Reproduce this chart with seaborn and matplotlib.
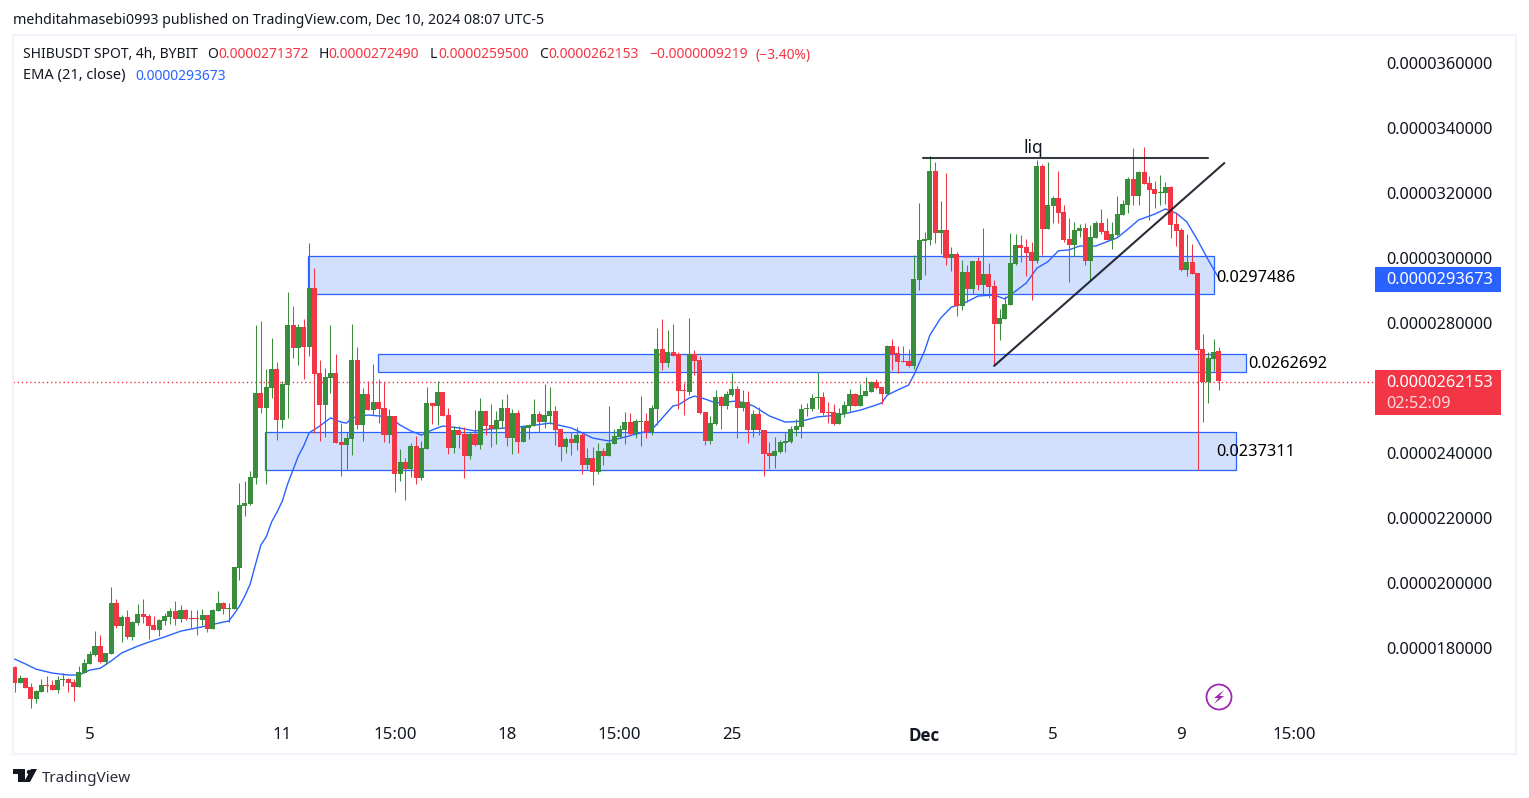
import matplotlib

matplotlib.use("Agg")
import matplotlib.pyplot as plt
import numpy as np
import pandas as pd
import seaborn as sns
from matplotlib.patches import Circle, Polygon, Rectangle
from matplotlib.transforms import Affine2D

W, H = 1529, 798

# OHLC of the 4h candles, in units of 1e-8 USDT
opens = [
    1742, 1692, 1708, 1680, 1643, 1665, 1686, 1686, 1671, 1702,
    1705, 1695, 1680, 1723, 1751, 1778, 1806, 1757, 1782, 1938,
    1868, 1895, 1834, 1877, 1905, 1898, 1871, 1855, 1883, 1895,
    1914, 1889, 1917, 1892, 1892, 1886, 1902, 1858, 1914, 1938,
    1920, 1920, 2046, 2237, 2243, 2323, 2585, 2538, 2600, 2658,
    2501, 2609, 2794, 2723, 2788, 2726, 2908, 2646, 2548, 2631,
    2646, 2434, 2425, 2443, 2686, 2486, 2581, 2532, 2557, 2538,
    2455, 2514, 2335, 2372, 2351, 2422, 2323, 2412, 2554, 2545,
    2588, 2517, 2415, 2471, 2458, 2391, 2458, 2425, 2529, 2486,
    2474, 2498, 2538, 2446, 2523, 2434, 2477, 2483, 2520, 2495,
    2514, 2529, 2474, 2418, 2443, 2431, 2455, 2363, 2385, 2342,
    2406, 2391, 2428, 2449, 2471, 2495, 2458, 2495, 2498, 2465,
    2535, 2720, 2677, 2711, 2705, 2594, 2588, 2705, 2686, 2526,
    2437, 2489, 2572, 2545, 2578, 2597, 2538, 2557, 2471, 2520,
    2471, 2400, 2391, 2403, 2431, 2434, 2471, 2480, 2535, 2535,
    2569, 2572, 2526, 2526, 2489, 2520, 2545, 2581, 2545, 2575,
    2588, 2618, 2603, 2581, 2729, 2708, 2683, 2683, 2668, 2932,
    3052, 3055, 3268, 3077, 3086, 3000, 3012, 2852, 2957, 2905,
    2991, 2917, 2951, 2914, 2797, 2812, 2855, 2982, 3040, 3034,
    3018, 2991, 3283, 3089, 3160, 3185, 3142, 3058, 3040, 3083,
    3092, 2991, 3062, 3108, 3083, 3055, 3071, 3132, 3163, 3243,
    3191, 3265, 3231, 3212, 3200, 3200, 3218, 3105, 3086, 2963,
    2988, 2954, 2720, 2618, 2689, 2714,
]
highs = [
    1745, 1717, 1711, 1692, 1671, 1705, 1714, 1702, 1714, 1723,
    1708, 1705, 1745, 1766, 1791, 1852, 1840, 1785, 1988, 1951,
    1902, 1917, 1883, 1935, 1951, 1905, 1898, 1889, 1908, 1923,
    1945, 1932, 1920, 1917, 1917, 1920, 1902, 1920, 1975, 1942,
    1938, 2049, 2308, 2314, 2345, 2794, 2806, 2658, 2754, 2680,
    2622, 2895, 2852, 2797, 2812, 3046, 2969, 2686, 2662, 2794,
    2705, 2492, 2465, 2797, 2726, 2600, 2622, 2674, 2628, 2618,
    2535, 2514, 2412, 2385, 2431, 2452, 2437, 2603, 2554, 2622,
    2588, 2538, 2483, 2483, 2480, 2465, 2532, 2569, 2529, 2551,
    2529, 2566, 2581, 2535, 2532, 2486, 2489, 2566, 2529, 2612,
    2603, 2545, 2474, 2449, 2465, 2480, 2462, 2415, 2418, 2431,
    2415, 2545, 2474, 2486, 2526, 2523, 2505, 2575, 2523, 2548,
    2785, 2812, 2778, 2797, 2711, 2615, 2815, 2717, 2698, 2526,
    2514, 2594, 2575, 2591, 2646, 2606, 2594, 2591, 2532, 2542,
    2471, 2434, 2449, 2440, 2465, 2483, 2505, 2551, 2554, 2581,
    2649, 2588, 2557, 2551, 2538, 2560, 2597, 2585, 2612, 2634,
    2622, 2628, 2603, 2732, 2751, 2729, 2729, 2720, 3009, 3169,
    3080, 3314, 3295, 3175, 3262, 3034, 3018, 2994, 2978, 2991,
    3003, 3092, 2985, 2932, 2843, 2883, 3077, 3074, 3071, 3058,
    3049, 3302, 3289, 3295, 3191, 3268, 3163, 3123, 3111, 3105,
    3108, 3102, 3114, 3151, 3123, 3111, 3191, 3178, 3249, 3338,
    3268, 3342, 3252, 3237, 3255, 3234, 3222, 3138, 3092, 3074,
    3043, 2954, 2766, 2711, 2751, 2725,
]
lows = [
    1665, 1692, 1677, 1615, 1631, 1665, 1665, 1671, 1662, 1683,
    1665, 1637, 1680, 1723, 1751, 1775, 1754, 1751, 1782, 1862,
    1818, 1828, 1825, 1871, 1877, 1828, 1855, 1837, 1871, 1874,
    1871, 1880, 1886, 1862, 1840, 1871, 1849, 1858, 1914, 1905,
    1880, 1920, 2009, 2206, 2240, 2305, 2523, 2305, 2569, 2440,
    2477, 2508, 2692, 2671, 2628, 2698, 2462, 2437, 2449, 2585,
    2431, 2329, 2351, 2394, 2474, 2437, 2532, 2517, 2492, 2434,
    2431, 2280, 2314, 2255, 2326, 2305, 2317, 2412, 2489, 2486,
    2514, 2397, 2400, 2415, 2323, 2382, 2422, 2412, 2455, 2418,
    2428, 2477, 2422, 2397, 2400, 2434, 2443, 2483, 2465, 2477,
    2489, 2425, 2375, 2400, 2394, 2409, 2335, 2351, 2302, 2335,
    2363, 2391, 2428, 2446, 2428, 2455, 2446, 2422, 2446, 2455,
    2486, 2655, 2665, 2698, 2535, 2517, 2578, 2640, 2520, 2425,
    2428, 2486, 2474, 2535, 2575, 2446, 2529, 2431, 2449, 2455,
    2329, 2351, 2354, 2400, 2403, 2431, 2452, 2446, 2514, 2529,
    2535, 2517, 2492, 2486, 2489, 2511, 2529, 2545, 2545, 2575,
    2588, 2597, 2551, 2578, 2655, 2646, 2680, 2665, 2658, 2902,
    2948, 3040, 3046, 3012, 2978, 2960, 2822, 2840, 2865, 2889,
    2902, 2886, 2877, 2671, 2748, 2812, 2855, 2978, 2988, 2945,
    2871, 2985, 3009, 3089, 3108, 3108, 3049, 2926, 3006, 3065,
    2978, 2932, 3062, 3074, 3055, 3028, 3068, 3132, 3138, 3163,
    3163, 3228, 3117, 3154, 3163, 3166, 3062, 3037, 2960, 2945,
    2951, 2348, 2495, 2554, 2652, 2595,
]
closes = [
    1692, 1708, 1677, 1643, 1668, 1686, 1683, 1671, 1702, 1705,
    1692, 1680, 1726, 1754, 1782, 1806, 1757, 1785, 1938, 1868,
    1895, 1834, 1880, 1905, 1895, 1868, 1855, 1886, 1898, 1914,
    1889, 1917, 1889, 1889, 1889, 1902, 1858, 1917, 1938, 1920,
    1923, 2049, 2240, 2246, 2326, 2585, 2538, 2603, 2658, 2501,
    2612, 2794, 2723, 2788, 2726, 2908, 2643, 2548, 2634, 2646,
    2431, 2425, 2446, 2686, 2486, 2581, 2532, 2557, 2535, 2455,
    2514, 2335, 2372, 2351, 2422, 2323, 2415, 2554, 2545, 2588,
    2514, 2415, 2471, 2455, 2391, 2458, 2425, 2529, 2483, 2474,
    2501, 2538, 2446, 2523, 2434, 2480, 2486, 2520, 2495, 2517,
    2529, 2471, 2418, 2443, 2431, 2455, 2363, 2385, 2342, 2406,
    2391, 2431, 2452, 2474, 2495, 2458, 2498, 2498, 2465, 2538,
    2720, 2677, 2711, 2698, 2591, 2591, 2705, 2683, 2523, 2437,
    2492, 2572, 2545, 2581, 2597, 2538, 2557, 2471, 2520, 2471,
    2397, 2391, 2406, 2434, 2437, 2474, 2483, 2535, 2538, 2569,
    2572, 2523, 2523, 2489, 2523, 2548, 2581, 2545, 2578, 2591,
    2618, 2600, 2581, 2729, 2705, 2680, 2680, 2668, 2935, 3055,
    3058, 3268, 3077, 3086, 3000, 3012, 2852, 2957, 2905, 2991,
    2917, 2951, 2911, 2797, 2815, 2858, 2985, 3040, 3031, 3015,
    2991, 3283, 3089, 3163, 3185, 3138, 3055, 3040, 3086, 3092,
    2991, 3065, 3108, 3080, 3055, 3074, 3135, 3166, 3243, 3191,
    3265, 3228, 3209, 3197, 3203, 3218, 3102, 3083, 2963, 2988,
    2951, 2717, 2618, 2692, 2711, 2622,
]

# EMA 21
ema_idx = [
    0, 2, 4, 7, 10, 12, 14, 16, 18, 20, 23, 25, 28, 31, 35, 39, 40, 41, 42, 43,
    44, 45, 46, 47, 48, 49, 50, 51, 52, 53, 54, 55, 57, 59, 61, 62, 63, 66, 70, 72,
    74, 76, 78, 80, 83, 86, 89, 92, 96, 100, 104, 106, 108, 111, 114, 119, 121, 123, 124, 126,
    127, 129, 131, 135, 138, 141, 144, 147, 150, 154, 158, 161, 162, 163, 165, 167, 168, 170, 171, 173,
    175, 177, 180, 183, 185, 187, 189, 191, 193, 195, 197, 199, 202, 206, 208, 210, 213, 215, 217, 219,
    221, 223, 225,
]
ema_val = [
    1766, 1751, 1735, 1723, 1717, 1717, 1732, 1738, 1760, 1785, 1806, 1818, 1834, 1852, 1865, 1880, 1883, 1905, 1929, 1960,
    1997, 2058, 2117, 2142, 2188, 2218, 2252, 2305, 2348, 2391, 2422, 2462, 2483, 2508, 2495, 2492, 2508, 2517, 2511, 2486,
    2468, 2455, 2471, 2483, 2477, 2468, 2474, 2477, 2483, 2492, 2477, 2462, 2446, 2437, 2449, 2471, 2508, 2545, 2548, 2569,
    2575, 2566, 2554, 2560, 2545, 2514, 2495, 2498, 2511, 2517, 2532, 2548, 2554, 2578, 2594, 2609, 2640, 2714, 2763, 2815,
    2849, 2858, 2883, 2886, 2874, 2898, 2923, 2969, 2988, 3022, 3025, 3037, 3037, 3062, 3089, 3117, 3135, 3151, 3138, 3111,
    3055, 2994, 2937,
]

# drawings: boxes (start, end, bottom, top), labels, lines
box_start = [54.8, 67.9, 46.8]
box_end = [224, 230, 228.1]
box_low = [2889, 2649, 2348]
box_high = [3006, 2705, 2465]
box_labels = ["0.0297486", "0.0262692", "0.0237311"]
liq_idx = [169.7, 223]
liq_val = [3308, 3308]
trend_idx = [183, 226]
trend_val = [2668, 3292]

price_ticks = [1800, 2000, 2200, 2400, 2800, 3000, 3200, 3400, 3600]
time_ticks = [14, 50, 71, 92, 113, 134, 170, 194, 218, 239]
time_labels = ["5", "11", "15:00", "18", "15:00", "25", "Dec", "5", "9", "15:00"]

UNIT = 1e-8
GREEN = "#388e3c"
RED = "#f23645"
BLUE = "#2962ff"
DARK = "#131722"
FRAME = "#f0f3fa"

sns.set_theme(style="white")
plt.rcParams["font.family"] = ["Noto Sans", "DejaVu Sans"]

df = pd.DataFrame({"open": opens, "high": highs, "low": lows, "close": closes}) * UNIT
df["idx"] = np.arange(len(df))
df["up"] = df["close"] >= df["open"]
df["color"] = np.where(df["up"], GREEN, RED)
ema = pd.DataFrame({"idx": ema_idx, "ema": np.array(ema_val) * UNIT})

fig = plt.figure(figsize=(W / 100, H / 100), dpi=100, facecolor="white")
ax = fig.add_axes([13 / W, 1 - 754 / H, 1503 / W, 719 / H])

# pixels from top left, for everything outside the chart scales
px = Affine2D().scale(1, -1).translate(0, H)

# axis limits picked so one candle step is 5.352 px and 65 px is 2e-6
ax.set_xlim(-0.318, 280.5)
ax.set_ylim(1474 * UNIT, 3686 * UNIT)

for s, e, lo, hi in zip(box_start, box_end, box_low, box_high):
    ax.add_patch(
        Rectangle(
            (s, lo * UNIT), e - s, (hi - lo) * UNIT,
            facecolor="#d2e0fe", edgecolor=BLUE, linewidth=0.9, zorder=1,
        )
    )

sns.lineplot(data=ema, x="idx", y="ema", color=BLUE, linewidth=1.0, ax=ax, zorder=2, legend=False)

ax.vlines(df["idx"], df["low"], df["high"], colors=df["color"], linewidth=0.75, zorder=3)
ax.bar(
    df["idx"],
    (df["close"] - df["open"]).abs(),
    bottom=df[["open", "close"]].min(axis=1),
    width=0.94,
    color=df["color"],
    linewidth=0,
    zorder=4,
)

ax.plot(liq_idx, np.array(liq_val) * UNIT, color=DARK, linewidth=1.5, alpha=0.85, zorder=6)
ax.plot(trend_idx, np.array(trend_val) * UNIT, color=DARK, linewidth=1.5, alpha=0.9, zorder=6)

# last price line, stops at the price scale
ax.plot(
    [0, 0.906], [(closes[-1] - 3) * UNIT] * 2, color=RED, linewidth=1.0,
    linestyle=(0, (1, 2)), transform=ax.get_yaxis_transform(), zorder=2,
)

ax.set_xlabel("")
ax.set_ylabel("")
ax.set_xticks(time_ticks)
ax.set_xticklabels(time_labels)
ax.set_yticks([v * UNIT for v in price_ticks])
ax.set_yticklabels([f"{v * UNIT:.10f}" for v in price_ticks])
ax.yaxis.tick_right()
ax.tick_params(axis="y", length=0, pad=-93.6, labelsize=11.8, labelcolor=DARK)
ax.tick_params(axis="x", length=0, pad=-19.2, labelsize=12.2, labelcolor=DARK)
for lab in ax.get_xticklabels():
    lab.set_verticalalignment("top")
    if lab.get_text() == "Dec":
        lab.set_family(["Open Sans", "DejaVu Sans"])
        lab.set_fontweight("bold")
for sp in ax.spines.values():
    sp.set_color(FRAME)
    sp.set_linewidth(1.5)

# box labels and liq
ax.text(1033, 148, "liq", transform=px, ha="center", va="center", fontsize=12.5, color=DARK, zorder=7)
for x, y, lab in zip([1216, 1248, 1216], [277.5, 363.5, 451.5], box_labels):
    ax.text(x, y, lab, transform=px, ha="left", va="center", fontsize=11.8, color="black", zorder=7)

# header and legend rows
fig.text(13, 20, "mehditahmasebi0993 published on TradingView.com, Dec 10, 2024 08:07 UTC-5",
         transform=px, ha="left", va="center", fontsize=10.2, color=DARK)
legend_row = [
    (23, "SHIBUSDT SPOT, 4h, BYBIT", DARK),
    (207, "O", DARK), (218, "0.0000271372", RED),
    (319, "H", DARK), (328, "0.0000272490", RED),
    (430, "L", DARK), (438, "0.0000259500", RED),
    (539, "C", DARK), (548, "0.0000262153", RED),
    (649, "\u22120.0000009219", RED), (756, "(\u22123.40%)", RED),
]
for x, s, c in legend_row:
    fig.text(x, 55, s, transform=px, ha="left", va="center", fontsize=10, color=c)
fig.text(23, 76, "EMA (21, close)", transform=px, ha="left", va="center", fontsize=10.5, color=DARK)
fig.text(135, 76, "0.0000293673", transform=px, ha="left", va="center", fontsize=10, color=BLUE)

# price scale badges
fig.add_artist(Rectangle((1375, 267), 126, 25, transform=px, facecolor=BLUE, edgecolor="none"))
fig.text(1386, 280.5, "0.0000293673", transform=px, ha="left", va="center", fontsize=11.8, color="white")
fig.add_artist(Rectangle((1375, 370), 126, 45, transform=px, facecolor=RED, edgecolor="none"))
fig.text(1386, 383, "0.0000262153", transform=px, ha="left", va="center", fontsize=11.8, color="white")
fig.text(1386, 404, "02:52:09", transform=px, ha="left", va="center", fontsize=11.8, color="#fcd5d9")

# lightning badge
fig.add_artist(Circle((1219, 697), 12.5, transform=px, facecolor="white", edgecolor="#9c27b0", linewidth=1.3))
fig.add_artist(
    Polygon(
        [(1224, 690), (1214, 698), (1218.5, 698), (1214, 704), (1224, 696), (1219.5, 696)],
        transform=px, facecolor="#9c27b0", edgecolor="none",
    )
)

# TradingView logo
fig.add_artist(Polygon([(13, 769), (25, 769), (25, 782), (18, 782), (18, 774), (13, 774)],
                       transform=px, facecolor=DARK, edgecolor="none"))
fig.add_artist(Circle((29, 772), 2.2, transform=px, facecolor=DARK, edgecolor="none"))
fig.add_artist(Polygon([(31, 769), (37, 769), (30, 782), (24, 782)],
                       transform=px, facecolor=DARK, edgecolor="none"))
fig.text(42, 778, "TradingView", transform=px, ha="left", va="center", fontsize=11, color="#2a2e39")

fig.savefig("out.png", dpi=100)
